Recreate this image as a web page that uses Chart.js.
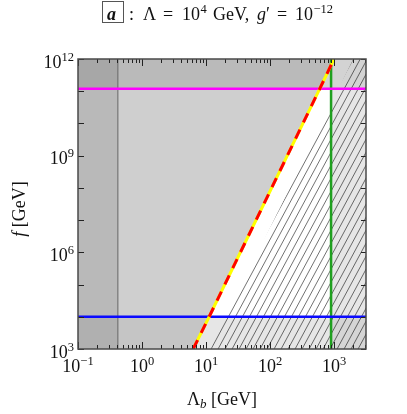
<!DOCTYPE html>
<html>
<head>
<meta charset="utf-8">
<script src="https://cdn.jsdelivr.net/npm/chart.js@4.4.1/dist/chart.umd.min.js"></script>
<style>
  html, body { margin: 0; padding: 0; background: #fff; }
</style>
</head>
<body>
<canvas id="chart" width="407" height="414"></canvas>
<script>
// axis limits and ticks
const xLimits = [0.1, 3162];
const yLimits = [1e3, 1e12];
const xMajorTicks = [0.1, 1, 10, 100, 1000];
const xTickExponents = ['\u22121', '0', '1', '2', '3'];
const yMajorTicks = [1e3, 1e6, 1e9, 1e12];
const yTickExponents = ['3', '6', '9', '12'];
const yMinorTicks = [1e4, 1e5, 1e7, 1e8, 1e10, 1e11];

// red/yellow dashed boundary (Lambda_b, f)
const diagLambda = [6.3, 11.2, 600, 1000];
const diagF = [1e3, 1e4, 1.2e11, 1e12];
// left edge of the hatched region
const hatchLambda = [11.7, 2000, 3162];
const hatchF = [1e3, 1e12, 1e12];
// horizontal and vertical constraint lines
const fMagenta = 1.2e11;
const fBlue = 1e4;
const lambdaGreen = 900;
const lambdaBand = 0.42;

const serif = '"Liberation Serif", "DejaVu Serif", serif';

function pts(xs, ys) {
    return xs.map(function (x, i) { return { x: x, y: ys[i] }; });
}

function hatchPattern() {
    const c = document.createElement('canvas');
    c.width = 7;
    c.height = 13;
    const g = c.getContext('2d');
    g.strokeStyle = 'rgba(0,0,0,0.62)';
    g.lineWidth = 0.9;
    g.beginPath();
    [-7, 0, 7].forEach(function (k) {
        g.moveTo(k, 13);
        g.lineTo(k + 7, 0);
    });
    g.stroke();
    return g.createPattern(c, 'repeat');
}

const diag = pts(diagLambda, diagF);
const x0 = xLimits[0], x1 = xLimits[1];

// listed bottom layer first
const layers = [
    // top band
    { data: [{ x: x0, y: yLimits[1] }, { x: x1, y: yLimits[1] }], fill: { value: fMagenta }, backgroundColor: '#d3d3d3' },
    // right band
    { data: [{ x: lambdaGreen, y: fMagenta }, { x: x1, y: fMagenta }], fill: 'start', backgroundColor: '#e6e6e6' },
    // bottom band
    { data: [{ x: x0, y: fBlue }, { x: lambdaGreen, y: fBlue }], fill: 'start', backgroundColor: '#e6e6e6' },
    { data: [{ x: lambdaGreen, y: fBlue }, { x: x1, y: fBlue }], fill: 'start', backgroundColor: '#d5d5d5' },
    // left of dashed boundary
    { data: [{ x: x0, y: diagF[0] }].concat(diag), fill: 'end', backgroundColor: '#cfcfcf' },
    { data: [{ x: x0, y: fMagenta }].concat(diag.slice(2)), fill: 'end', backgroundColor: '#bababa' },
    { data: [{ x: x0, y: diagF[0] }].concat(diag.slice(0, 2)), fill: { value: fBlue }, backgroundColor: '#c5c5c5' },
    // hatched region
    { data: pts(hatchLambda, hatchF), fill: 'start', backgroundColor: hatchPattern() },
    // left band
    { data: [{ x: x0, y: yLimits[1] }, { x: lambdaBand, y: yLimits[1] }], fill: 'start', backgroundColor: 'rgba(0,0,0,0.1)' },
    { data: [{ x: lambdaBand, y: yLimits[0] }, { x: lambdaBand, y: yLimits[1] }], borderColor: '#666666', borderWidth: 1 },
    // lines
    { data: [{ x: lambdaGreen, y: yLimits[0] }, { x: lambdaGreen, y: yLimits[1] }], borderColor: '#1fa01f', borderWidth: 2.5 },
    { data: [{ x: x0, y: fMagenta }, { x: x1, y: fMagenta }], borderColor: '#ff00ff', borderWidth: 2.5 },
    { data: [{ x: x0, y: fBlue }, { x: x1, y: fBlue }], borderColor: '#0a0aff', borderWidth: 2.5 },
    { data: diag, borderColor: '#ffff00', borderWidth: 3 },
    { data: diag, borderColor: '#ff0000', borderWidth: 3, borderDash: [10, 8] }
];

const datasets = layers.map(function (d, i) {
    return Object.assign({
        fill: false,
        borderWidth: 0,
        borderColor: 'rgba(0,0,0,0)',
        pointRadius: 0,
        tension: 0,
        order: layers.length - i
    }, d);
});

function drawParts(ctx, parts, x, y, align) {
    let w = 0;
    parts.forEach(function (p) {
        ctx.font = p.font;
        p.w = ctx.measureText(p.t).width;
        w += p.w;
    });
    let cx = align === 'center' ? x - w / 2 : (align === 'right' ? x - w : x);
    ctx.textAlign = 'left';
    ctx.textBaseline = 'alphabetic';
    parts.forEach(function (p) {
        ctx.font = p.font;
        ctx.fillText(p.t, cx, y + (p.dy || 0));
        cx += p.w;
    });
}

function power(exp, size, supSize, rise) {
    return [
        { t: '10', font: size + 'px ' + serif },
        { t: exp, font: supSize + 'px ' + serif, dy: -rise }
    ];
}

const framePlugin = {
    id: 'frame',
    afterDraw: function (chart) {
        const ctx = chart.ctx;
        const a = chart.chartArea;
        const xs = chart.scales.x, ys = chart.scales.y;
        ctx.save();

        // ticks
        ctx.strokeStyle = '#222';
        ctx.lineWidth = 1;
        ctx.beginPath();
        const xMinor = [];
        xMajorTicks.forEach(function (d) {
            for (let k = 2; k <= 9; k++) {
                if (d * k <= xLimits[1]) xMinor.push(d * k);
            }
        });
        xMajorTicks.forEach(function (v) {
            const px = Math.round(xs.getPixelForValue(v)) + 0.5;
            ctx.moveTo(px, a.bottom); ctx.lineTo(px, a.bottom - 7);
            ctx.moveTo(px, a.top); ctx.lineTo(px, a.top + 7);
        });
        xMinor.forEach(function (v) {
            const px = Math.round(xs.getPixelForValue(v)) + 0.5;
            ctx.moveTo(px, a.bottom); ctx.lineTo(px, a.bottom - 4);
            ctx.moveTo(px, a.top); ctx.lineTo(px, a.top + 4);
        });
        yMajorTicks.concat(yMinorTicks).forEach(function (v) {
            const py = Math.round(ys.getPixelForValue(v)) + 0.5;
            ctx.moveTo(a.left, py); ctx.lineTo(a.left + 6, py);
            ctx.moveTo(a.right, py); ctx.lineTo(a.right - 5, py);
        });
        ctx.stroke();

        // frame
        ctx.strokeStyle = '#4a4a4a';
        ctx.lineWidth = 1.5;
        ctx.strokeRect(a.left, a.top, a.right - a.left, a.bottom - a.top);

        ctx.fillStyle = '#111';
        // tick labels
        xMajorTicks.forEach(function (v, i) {
            drawParts(ctx, power(xTickExponents[i], 18, 12.5, 7), xs.getPixelForValue(v), a.bottom + 23, 'center');
        });
        yMajorTicks.forEach(function (v, i) {
            drawParts(ctx, power(yTickExponents[i], 18, 12.5, 7), a.left - 4, ys.getPixelForValue(v) + 8.5, 'right');
        });

        // axis titles
        drawParts(ctx, [
            { t: '\u039b', font: '18px ' + serif },
            { t: 'b', font: 'italic 13px ' + serif, dy: 3 },
            { t: ' [GeV]', font: '18px ' + serif }
        ], (a.left + a.right) / 2, 405, 'center');

        ctx.save();
        ctx.translate(25, (a.top + a.bottom) / 2 + 5);
        ctx.rotate(-Math.PI / 2);
        drawParts(ctx, [
            { t: 'f', font: 'italic 18px ' + serif },
            { t: ' [GeV]', font: '18px ' + serif }
        ], 0, 0, 'center');
        ctx.restore();

        // title, pieces placed as in the original layout
        const reg = '18px ' + serif;
        const sup = '12.5px ' + serif;
        const title = [
            ['a', 'bold italic 18px ' + serif, 107, 0],
            [':', reg, 129, 0],
            ['\u039b', reg, 143, 0],
            ['=', reg, 163, 0],
            ['10', reg, 182, 0],
            ['4', sup, 200.5, -7],
            ['GeV,', reg, 213, 0],
            ['g', 'italic 18px ' + serif, 257, 0],
            ['\u2032', reg, 266, 0],
            ['=', reg, 277, 0],
            ['10', reg, 295, 0],
            ['\u221212', sup, 313.5, -7]
        ];
        ctx.textAlign = 'left';
        ctx.textBaseline = 'alphabetic';
        title.forEach(function (p) {
            ctx.font = p[1];
            ctx.fillText(p[0], p[2], 20 + p[3]);
        });
        ctx.strokeStyle = '#555';
        ctx.lineWidth = 1;
        ctx.strokeRect(102.5, 1.5, 21, 21);

        ctx.restore();
    }
};

new Chart(document.getElementById('chart').getContext('2d'), {
    type: 'line',
    data: { datasets: datasets },
    options: {
        responsive: false,
        animation: false,
        layout: { padding: { left: 78, top: 59, right: 41, bottom: 65 } },
        scales: {
            x: { type: 'logarithmic', min: xLimits[0], max: xLimits[1], display: false },
            y: { type: 'logarithmic', min: yLimits[0], max: yLimits[1], display: false }
        },
        plugins: {
            legend: { display: false },
            tooltip: { enabled: false },
            title: { display: false }
        }
    },
    plugins: [framePlugin]
});
</script>
</body>
</html>
